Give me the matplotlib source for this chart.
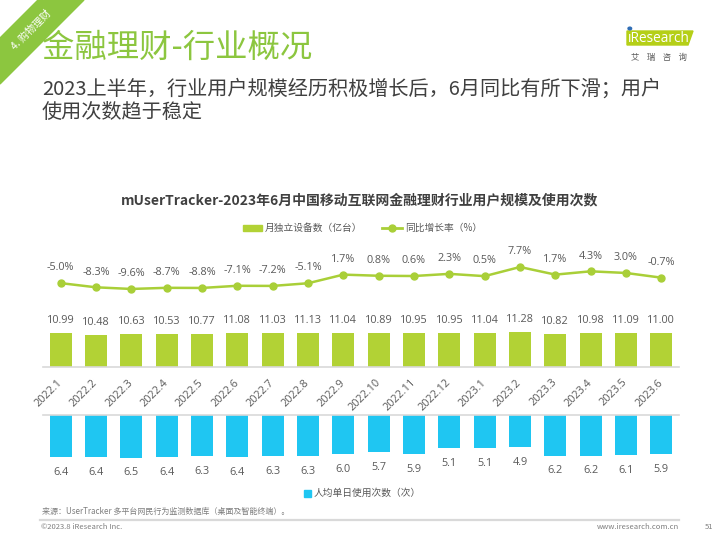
import matplotlib.pyplot as plt
from matplotlib.patches import Polygon, Rectangle, Circle
from matplotlib.lines import Line2D
import numpy as np

plt.rcParams['font.family'] = ['Noto Sans CJK SC', 'DejaVu Sans']
NUM_FONT = ['Open Sans', 'DejaVu Sans']

months = ['2022.1', '2022.2', '2022.3', '2022.4', '2022.5', '2022.6', '2022.7', '2022.8', '2022.9',
          '2022.10', '2022.11', '2022.12', '2023.1', '2023.2', '2023.3', '2023.4', '2023.5', '2023.6']
devices = [10.99, 10.48, 10.63, 10.53, 10.77, 11.08, 11.03, 11.13, 11.04,
           10.89, 10.95, 10.95, 11.04, 11.28, 10.82, 10.98, 11.09, 11.00]
growth = [-5.0, -8.3, -9.6, -8.7, -8.8, -7.1, -7.2, -5.1, 1.7,
          0.8, 0.6, 2.3, 0.5, 7.7, 1.7, 4.3, 3.0, -0.7]
usage = [6.4, 6.4, 6.5, 6.4, 6.3, 6.4, 6.3, 6.3, 6.0,
         5.7, 5.9, 5.1, 5.1, 4.9, 6.2, 6.2, 6.1, 5.9]

label_devices = '月独立设备数（亿台）'
label_growth = '同比增长率（%）'
label_usage = '人均单日使用次数（次）'

GREEN = '#b2d235'
LINE_GREEN = '#a9cf38'
BLUE = '#1fc6f2'
TITLE_GREEN = '#8cc63f'
TXT = '#595959'

W, H = 720, 540


def fx(x):
    return x / W


def fy(y):
    return 1 - y / H


fig = plt.figure(figsize=(7.2, 5.4), dpi=100)
x = np.arange(len(months))

# header
fig.patches.append(Polygon([[fx(38), fy(0)], [fx(84), fy(0)], [fx(0), fy(84)], [fx(0), fy(38)]],
                           closed=True, transform=fig.transFigure, color=TITLE_GREEN))
fig.text(fx(31), fy(30), '4. 购物理财', color='white', fontsize=7.3, rotation=45,
         ha='center', va='center')
fig.text(fx(42), fy(48), '金融理财-行业概况', color=TITLE_GREEN, fontsize=23.3, va='center')
fig.text(fx(42), fy(89), '2023上半年，行业用户规模经历积极增长后，6月同比有所下滑；用户',
         color='#404040', fontsize=14.5, va='center')
fig.text(fx(42), fy(112), '使用次数趋于稳定', color='#404040', fontsize=14.5, va='center')

# logo
fig.patches.append(Polygon([[fx(627), fy(31)], [fx(693), fy(31)], [fx(688), fy(45)], [fx(627), fy(45)]],
                           closed=True, transform=fig.transFigure, color='#b5cf17'))
fig.text(fx(627.5), fy(38.5), '\u0131Research', color='white', fontsize=9.8, va='center',
         family=NUM_FONT)
fig.patches.append(Circle((fx(629.8), fy(28.5)), 1.8 / W, transform=fig.transFigure, color='#2f6db5'))
fig.text(fx(659), fy(57), '艾    瑞    咨    询', color=TXT, fontsize=6, ha='center', va='center')

# chart title
fig.text(fx(360), fy(200), 'mUserTracker-2023年6月中国移动互联网金融理财行业用户规模及使用次数',
         color='#404040', fontsize=10, fontweight='bold', ha='center', va='center')

# legends
fig.patches.append(Rectangle((fx(243), fy(231)), 19 / W, 6 / H, transform=fig.transFigure, color=GREEN))
fig.text(fx(265), fy(228), label_devices, color=TXT, fontsize=7, va='center')
fig.lines.append(Line2D([fx(382), fx(402)], [fy(228), fy(228)], transform=fig.transFigure,
                        color=LINE_GREEN, lw=2, marker=None))
fig.lines.append(Line2D([fx(392)], [fy(228)], transform=fig.transFigure,
                        color=LINE_GREEN, marker='o', markersize=5))
fig.text(fx(405), fy(228), label_growth, color=TXT, fontsize=7, va='center')
fig.patches.append(Rectangle((fx(304), fy(497)), 7 / W, 7 / H, transform=fig.transFigure, color=BLUE))
fig.text(fx(314), fy(493), label_usage, color=TXT, fontsize=7, va='center')

# growth line
ax_line = fig.add_axes([fx(43), fy(300), 636 / W, 50 / H])
ax_line.plot(x, growth, color=LINE_GREEN, lw=1.8, marker='o', markersize=5)
for xi, v in zip(x, growth):
    ax_line.annotate(f'{v:.1f}%', (xi, v), xytext=(0, 11), textcoords='offset points',
                     ha='center', va='center', fontsize=7.8, color=TXT, family=NUM_FONT)
ax_line.set_xlim(-0.5, len(months) - 0.5)
ax_line.set_ylim(-18.3, 21.1)
ax_line.axis('off')

# devices bars
ax_top = fig.add_axes([fx(43), fy(367), 636 / W, 47 / H])
ax_top.bar(x, devices, width=0.62, color=GREEN)
for xi, v in zip(x, devices):
    ax_top.annotate(f'{v:.2f}', (xi, v), xytext=(0, 9), textcoords='offset points',
                    ha='center', va='center', fontsize=7.8, color=TXT, family=NUM_FONT)
ax_top.set_xlim(-0.5, len(months) - 0.5)
ax_top.set_ylim(0, 15.2)
for s in ['top', 'left', 'right']:
    ax_top.spines[s].set_visible(False)
ax_top.spines['bottom'].set_color('#d9d9d9')
ax_top.spines['bottom'].set_linewidth(1.2)
ax_top.set_yticks([])
ax_top.set_xticks(x)
ax_top.set_xticklabels(months, rotation=45, ha='right', va='center', rotation_mode='anchor',
                       fontsize=7.8, color=TXT, family=NUM_FONT)
ax_top.tick_params(axis='x', length=0, pad=10)

# usage bars
ax_bot = fig.add_axes([fx(43), fy(480), 636 / W, 65 / H])
ax_bot.bar(x, usage, width=0.62, color=BLUE)
for xi, v in zip(x, usage):
    ax_bot.annotate(f'{v:.1f}', (xi, v), xytext=(0, -11), textcoords='offset points',
                    ha='center', va='center', fontsize=7.8, color=TXT, family=NUM_FONT)
ax_bot.set_xlim(-0.5, len(months) - 0.5)
ax_bot.set_ylim(9.9, 0)
for s in ['bottom', 'left', 'right']:
    ax_bot.spines[s].set_visible(False)
ax_bot.spines['top'].set_color('#d9d9d9')
ax_bot.spines['top'].set_linewidth(1.2)
ax_bot.set_xticks([])
ax_bot.set_yticks([])

# footer
fig.text(fx(42), fy(511), '来源：UserTracker 多平台网民行为监测数据库（桌面及智能终端）。',
         color='#7f7f7f', fontsize=5.8, va='center')
fig.lines.append(Line2D([fx(40), fx(679)], [fy(519.5), fy(519.5)], transform=fig.transFigure,
                        color='#d9d9d9', lw=1.6))
fig.text(fx(41), fy(527), '©2023.8 iResearch Inc.', color='#7f7f7f', fontsize=5.5, va='center')
fig.text(fx(679), fy(527), 'www.iresearch.com.cn', color='#7f7f7f', fontsize=5.5, ha='right', va='center')
fig.text(fx(705), fy(527), '51', color='#7f7f7f', fontsize=5.5, va='center')

fig.savefig('out.png', dpi=100)
